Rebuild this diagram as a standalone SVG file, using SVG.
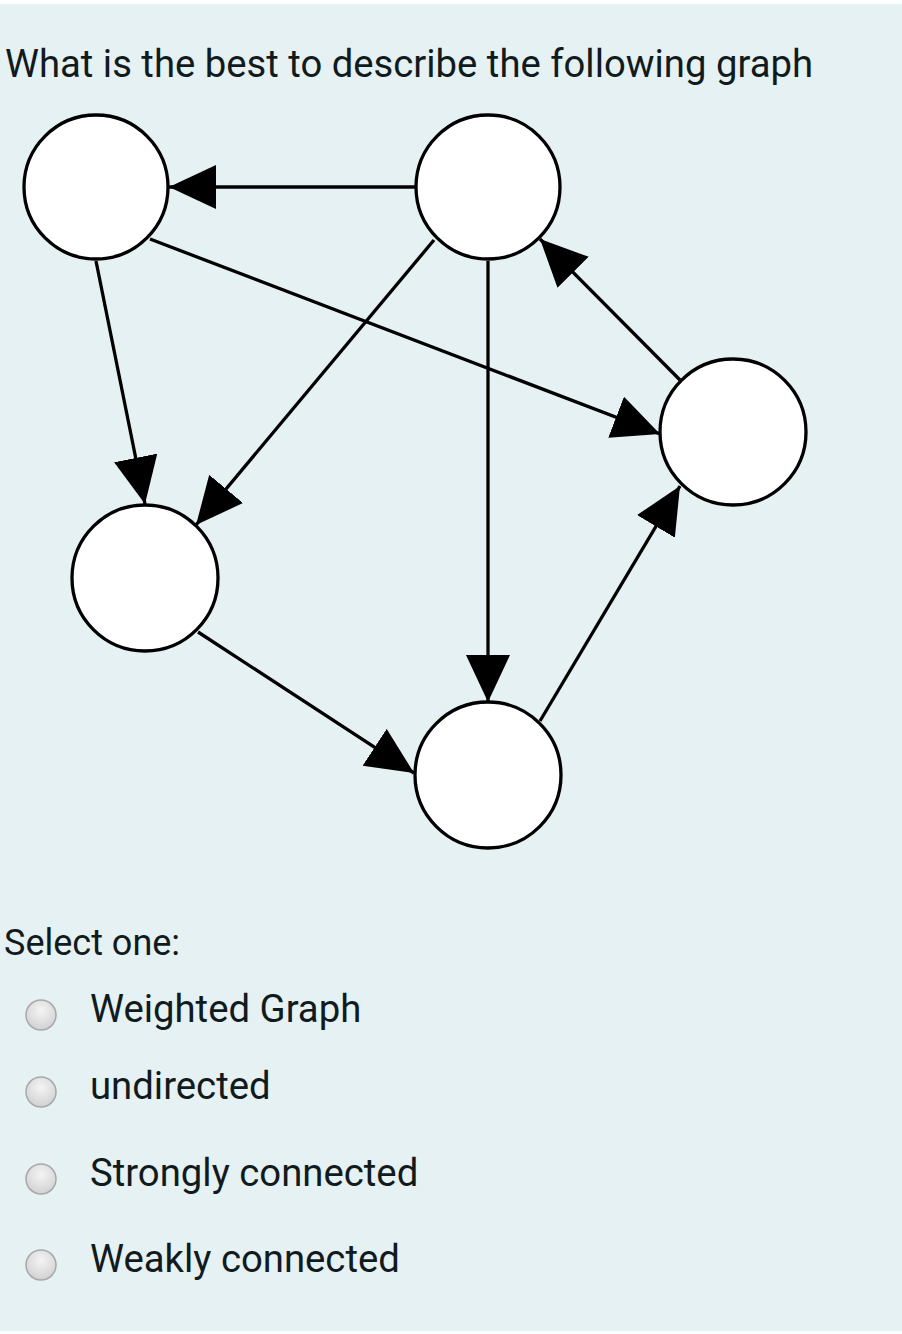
<svg xmlns="http://www.w3.org/2000/svg" width="902" height="1334" viewBox="0 0 902 1334">
<style>
.node{fill:#fff;stroke:#000;stroke-width:3.3}
.edge{stroke:#000;stroke-width:3.3;fill:none;marker-end:url(#arr)}
.t{font-family:Roboto,"Liberation Sans",sans-serif;fill:#111a1c}
.radio{fill:url(#rg);stroke:#a8a8a8;stroke-width:1.5}
</style>
<defs>
<marker id="arr" markerUnits="userSpaceOnUse" markerWidth="50" markerHeight="50" refX="47" refY="22" orient="auto">
<path d="M0,0 L47,22 L0,44 Z" fill="#000"/>
</marker>
<radialGradient id="rg" cx="0.5" cy="0.35" r="0.6">
<stop offset="0" stop-color="#f4f4f4"/>
<stop offset="1" stop-color="#d4d4d4"/>
</radialGradient>
</defs>
<rect x="0" y="0" width="902" height="1334" fill="#fdfefe"/>
<rect x="0" y="4" width="902" height="1327" fill="#e5f1f3"/>
<text class="t" x="5" y="77" font-size="38" textLength="808" lengthAdjust="spacingAndGlyphs">What is the best to describe the following graph</text>
<g id="edges">
<line class="edge" x1="416" y1="187" x2="169" y2="187"/>
<line class="edge" x1="150" y1="239" x2="660" y2="434"/>
<line class="edge" x1="96" y1="261" x2="145" y2="504"/>
<line class="edge" x1="434" y1="240" x2="196" y2="525"/>
<line class="edge" x1="488" y1="261" x2="488" y2="702"/>
<line class="edge" x1="198" y1="632" x2="414" y2="773"/>
<line class="edge" x1="540" y1="721" x2="680" y2="486"/>
<line class="edge" x1="680" y1="380" x2="540" y2="239"/>
</g>
<g id="nA"><circle class="node" cx="96" cy="187" r="72"/></g>
<g id="nB"><circle class="node" cx="488" cy="187" r="72"/></g>
<g id="nC"><circle class="node" cx="733" cy="432" r="73"/></g>
<g id="nD"><circle class="node" cx="145" cy="578" r="73"/></g>
<g id="nE"><circle class="node" cx="488" cy="775" r="73"/></g>
<text class="t" x="4" y="955" font-size="36">Select one:</text>
<g id="opt1"><circle class="radio" cx="41" cy="1015" r="15"/><text class="t" x="90" y="1022" font-size="38.3">Weighted Graph</text></g>
<g id="opt2"><circle class="radio" cx="41" cy="1092" r="15"/><text class="t" x="90" y="1099" font-size="38.3">undirected</text></g>
<g id="opt3"><circle class="radio" cx="41" cy="1179" r="15"/><text class="t" x="90" y="1186" font-size="38.3">Strongly connected</text></g>
<g id="opt4"><circle class="radio" cx="41" cy="1265" r="15"/><text class="t" x="90" y="1272" font-size="38.3">Weakly connected</text></g>
</svg>
